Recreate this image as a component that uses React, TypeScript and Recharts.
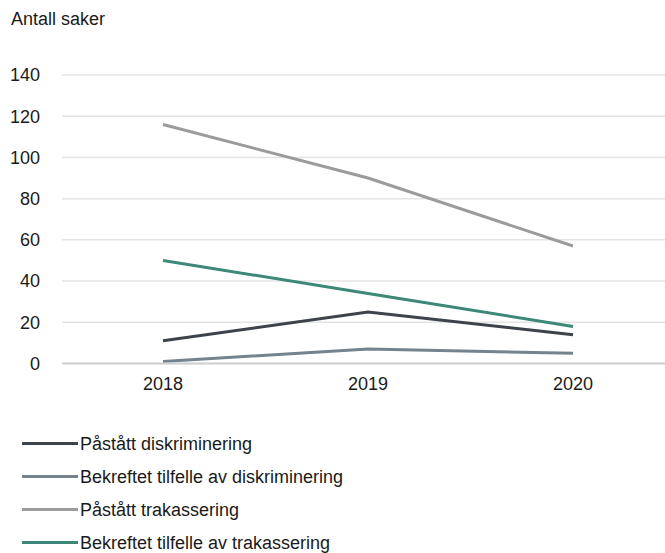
import { CartesianGrid, Legend, Line, LineChart, XAxis, YAxis } from "recharts";

const years = ["2018", "2019", "2020"];

const seriesNames = [
  "Påstått diskriminering",
  "Bekreftet tilfelle av diskriminering",
  "Påstått trakassering",
  "Bekreftet tilfelle av trakassering",
];

const allegedDiscrimination = [11, 25, 14];
const confirmedDiscrimination = [1, 7, 5];
const allegedHarassment = [116, 90, 57];
const confirmedHarassment = [50, 34, 18];

const yTicks = [0, 20, 40, 60, 80, 100, 120, 140];

const colors = ["#3c434a", "#74838e", "#9b9b9b", "#3d8878"];
const font = "'Liberation Sans', Arial, sans-serif";

const seriesValues = [allegedDiscrimination, confirmedDiscrimination, allegedHarassment, confirmedHarassment];

const data = years.map((year, i) => {
  const row: Record<string, string | number> = { year };
  seriesNames.forEach((name, s) => {
    row[name] = seriesValues[s][i];
  });
  return row;
});

function LegendBox() {
  return (
    <div style={{ height: 132, fontFamily: font, fontSize: 18, lineHeight: 1, color: "#1a1a1a" }}>
      {seriesNames.map((name, i) => (
        <div key={name} style={{ height: 33, display: "flex", alignItems: "center" }}>
          <span style={{ marginLeft: 22, width: 56, height: 3, background: colors[i], display: "inline-block" }} />
          <span style={{ marginLeft: 2, whiteSpace: "nowrap" }}>{name}</span>
        </div>
      ))}
    </div>
  );
}

export default function App() {
  return (
    <div style={{ position: "absolute", left: 0, top: 0, width: 665, height: 553, background: "#fff" }}>
      <div
        style={{ position: "absolute", left: 11, top: 9, fontFamily: font, fontSize: 18, color: "#1a1a1a" }}
      >
        Antall saker
      </div>
      <LineChart width={665} height={553} data={data} margin={{ top: 75, right: 0, left: 0, bottom: 27.5 }}>
        <CartesianGrid vertical={false} stroke="#e4e4e4" strokeWidth={1.5} />
        <XAxis
          dataKey="year"
          padding={{ left: 101, right: 92 }}
          axisLine={{ stroke: "#d0d0d0", strokeWidth: 2 }}
          tickLine={false}
          tickMargin={8}
          height={30}
          tick={{ fill: "#1a1a1a", fontSize: 18, fontFamily: font }}
        />
        <YAxis
          domain={[0, 140]}
          ticks={yTicks}
          width={62}
          axisLine={false}
          tickLine={false}
          tickMargin={16}
          tick={{ fill: "#1a1a1a", fontSize: 18, fontFamily: font }}
        />
        <Legend
          verticalAlign="bottom"
          align="left"
          wrapperStyle={{ top: 427, left: 0 }}
          content={() => <LegendBox />}
        />
        {seriesNames.map((name, i) => (
          <Line
            key={name}
            type="linear"
            dataKey={name}
            stroke={colors[i]}
            strokeWidth={3}
            dot={false}
            activeDot={false}
            isAnimationActive={false}
          />
        ))}
      </LineChart>
    </div>
  );
}
